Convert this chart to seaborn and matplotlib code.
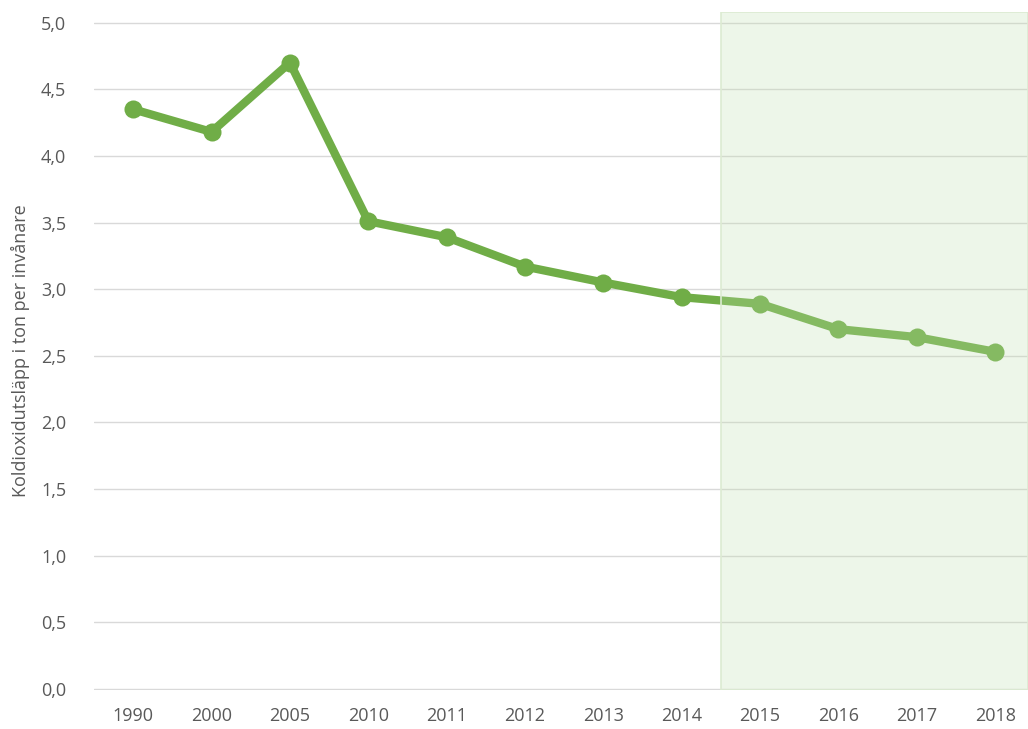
import pandas as pd
import matplotlib.pyplot as plt
import seaborn as sns

# data
years = ["1990", "2000", "2005", "2010", "2011", "2012", "2013", "2014",
         "2015", "2016", "2017", "2018"]
co2 = [4.35, 4.18, 4.70, 3.51, 3.39, 3.17, 3.05, 2.94, 2.89, 2.70, 2.64, 2.53]

df = pd.DataFrame({"pos": range(len(years)), "year": years, "co2": co2})

sns.set_style("white")
plt.rcParams["font.family"] = ["Open Sans", "DejaVu Sans"]

fig = plt.figure(figsize=(10.28, 7.29), dpi=100)
ax = fig.add_axes([94 / 1028, 1 - 690 / 729, (1028 - 94) / 1028, (690 - 12) / 729])

grey = "#595959"
green = "#70AD47"

sns.lineplot(data=df, x="pos", y="co2", ax=ax, color=green, linewidth=6,
             marker="o", markersize=13, markeredgewidth=0, zorder=3)

# shaded period (drawn over the line, as in the original)
ax.axvspan(7.5, 11.42, color="#C0DEAE", alpha=0.27, lw=0, zorder=4)
ax.axvspan(7.5, 11.42, facecolor="none", edgecolor="#DCEBD2", lw=1.2, zorder=4)

ax.set_xlim(-0.5, 11.42)
ax.set_ylim(-0.008, 5.08)
ax.set_yticks([i * 0.5 for i in range(11)])
ax.set_yticklabels([f"{i * 0.5:.1f}".replace(".", ",") for i in range(11)])
ax.set_xticks(df["pos"])
ax.set_xticklabels(years)

ax.yaxis.grid(True, color="#D9D9D9", linewidth=1, zorder=0)
ax.set_axisbelow(True)
for s in ax.spines.values():
    s.set_visible(False)

ax.tick_params(axis="both", colors=grey, labelsize=13, length=0)
ax.tick_params(axis="y", pad=20)
ax.tick_params(axis="x", pad=12)
ax.set_xlabel("")
ax.set_ylabel("Koldioxidutsläpp i ton per invånare", color=grey, fontsize=13)
ax.yaxis.set_label_coords(-0.069, 0.5)

plt.savefig("out.png", dpi=100)
